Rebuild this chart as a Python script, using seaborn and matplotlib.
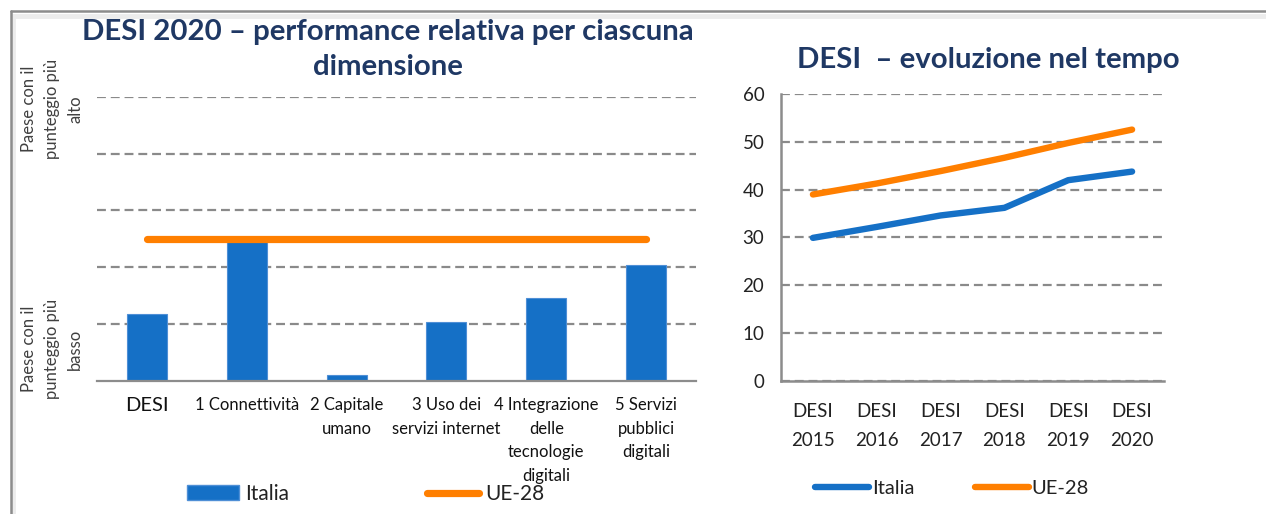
import matplotlib
matplotlib.use("Agg")
import matplotlib.pyplot as plt
from matplotlib.lines import Line2D
from matplotlib.patches import Patch
import seaborn as sns
import pandas as pd
import numpy as np

# ---------------- data ----------------
dimensions = ["DESI", "1 Connettività", "2 Capitale\numano", "3 Uso dei\nservizi internet",
              "4 Integrazione\ndelle\ntecnologie\ndigitali", "5 Servizi\npubblici\ndigitali"]
italia_rel = [23.4, 49.2, 2.0, 20.6, 29.2, 40.8]
ue28_rel = [50, 50, 50, 50, 50, 50]
rel_grid = [20, 40, 60, 80, 100]

years = ["DESI\n2015", "DESI\n2016", "DESI\n2017", "DESI\n2018", "DESI\n2019", "DESI\n2020"]
italia_desi = [29.9, 32.2, 34.6, 36.2, 42.0, 43.8]
ue28_desi = [39.0, 41.3, 43.9, 46.7, 49.8, 52.6]
desi_ticks = [0, 10, 20, 30, 40, 50, 60]

title_left = "DESI 2020 – performance relativa per ciascuna\ndimensione"
title_right = "DESI  – evoluzione nel tempo"
label_high = "Paese con il\npunteggio più\nalto"
label_low = "Paese con il\npunteggio più\nbasso"
series_names = ["Italia", "UE-28"]

# ---------------- style ----------------
BLUE = "#1570C6"
ORANGE = "#FF7F00"
NAVY = "#1F3864"
GRID = "#8a8a8a"
AX = "#8c8c8c"

sns.set_theme(style="white")
plt.rcParams["font.family"] = ["Lato", "DejaVu Sans"]

W, H = 1266, 514
fig = plt.figure(figsize=(W / 100, H / 100), dpi=100)
fig.patch.set_facecolor("white")


def px_rect(x0, y0, x1, y1):
    return [x0 / W, 1 - y1 / H, (x1 - x0) / W, (y1 - y0) / H]


# ---------------- left: bar chart ----------------
ax1 = fig.add_axes(px_rect(97, 96.7, 696, 380.7))
df_rel = pd.DataFrame({"dim": dimensions, "Italia": italia_rel, "UE-28": ue28_rel,
                       "pos": np.arange(len(dimensions))})
sns.barplot(data=df_rel, x="dim", y="Italia", color=BLUE, saturation=1, width=0.4,
            edgecolor="#4f8fd6", linewidth=0.8, ax=ax1, zorder=2)
sns.lineplot(data=df_rel, x="pos", y="UE-28", color=ORANGE, linewidth=5.2,
             solid_capstyle="round", ax=ax1, zorder=3)
ax1.set_xlim(-0.5, len(dimensions) - 0.5)
ax1.set_ylim(0, 100)
ax1.set_yticks(rel_grid)
ax1.set_yticklabels([])
ax1.tick_params(axis="y", length=0)
ax1.yaxis.grid(True, color=GRID, linestyle=(0, (4, 2.2)), linewidth=1.6)
ax1.xaxis.grid(False)
ax1.set_axisbelow(True)
for s in ["top", "right", "left"]:
    ax1.spines[s].set_visible(False)
ax1.spines["bottom"].set_color(AX)
ax1.spines["bottom"].set_linewidth(1.6)
ax1.set_xlabel("")
ax1.set_ylabel("")
ax1.set_xticks(np.arange(len(dimensions)))
ax1.set_xticklabels(dimensions, fontsize=12, color="#111111", linespacing=1.58)
ax1.get_xticklabels()[0].set_fontsize(14.5)
ax1.tick_params(axis="x", which="major", length=0, pad=12)
ax1.set_xticks(np.arange(len(dimensions) + 1) - 0.5, minor=True)
ax1.tick_params(axis="x", which="minor", length=4, width=1.4, color=AX, direction="out")

leg1 = ax1.legend(handles=[Patch(facecolor=BLUE, edgecolor="#4f8fd6", label=series_names[0]),
                           Line2D([], [], color=ORANGE, linewidth=5.2, solid_capstyle="round",
                                  label=series_names[1])],
                  loc="center left", bbox_to_anchor=(187 / W, 1 - 494 / H),
                  bbox_transform=fig.transFigure, ncol=2, frameon=False, fontsize=15,
                  handlelength=2.5, handleheight=0.7, handletextpad=0.3,
                  columnspacing=6.6, borderpad=0, borderaxespad=0)
for t in leg1.get_texts():
    t.set_color("#222222")

fig.text(52 / W, 1 - 109 / H, label_high, rotation=90, ha="center", va="center",
         fontsize=12, color="#404040", linespacing=1.55, multialignment="center")
fig.text(52 / W, 1 - 349 / H, label_low, rotation=90, ha="center", va="center",
         fontsize=12, color="#404040", linespacing=1.55, multialignment="center")
fig.text(388 / W, 1 - 49.5 / H, title_left, ha="center", va="center", fontsize=21.2,
         fontweight="bold", color=NAVY, linespacing=1.45)

# ---------------- right: line chart ----------------
ax2 = fig.add_axes(px_rect(781, 94.3, 1164, 380.5))
df_ts = pd.DataFrame({"pos": np.arange(len(years)), "Italia": italia_desi, "UE-28": ue28_desi})
sns.lineplot(data=df_ts, x="pos", y="Italia", color=BLUE, linewidth=4.6,
             solid_capstyle="round", ax=ax2, zorder=3)
sns.lineplot(data=df_ts, x="pos", y="UE-28", color=ORANGE, linewidth=4.6,
             solid_capstyle="round", ax=ax2, zorder=3)
ax2.set_xlim(-0.5, len(years) - 0.5)
ax2.set_ylim(0, 60)
ax2.set_yticks(desi_ticks)
ax2.set_yticklabels([str(v) for v in desi_ticks], fontsize=13.5, color="#222222")
ax2.tick_params(axis="y", length=5, width=1.4, color=AX, pad=7)
ax2.yaxis.grid(True, color=GRID, linestyle=(0, (4, 2.2)), linewidth=1.6)
ax2.xaxis.grid(False)
ax2.set_axisbelow(True)
for s in ["top", "right"]:
    ax2.spines[s].set_visible(False)
for s in ["left", "bottom"]:
    ax2.spines[s].set_color(AX)
    ax2.spines[s].set_linewidth(1.8)
ax2.set_xlabel("")
ax2.set_ylabel("")
ax2.set_xticks(np.arange(len(years)))
ax2.set_xticklabels(years, fontsize=13.5, color="#222222", linespacing=1.85)
ax2.tick_params(axis="x", which="major", length=0, pad=16.5)
ax2.set_xticks(np.arange(len(years) + 1) - 0.5, minor=True)
ax2.tick_params(axis="x", which="minor", length=6, width=1.4, color=AX, direction="out")

leg2 = ax2.legend(handles=[Line2D([], [], color=BLUE, linewidth=4.6, solid_capstyle="round",
                                  label=series_names[0]),
                           Line2D([], [], color=ORANGE, linewidth=4.6, solid_capstyle="round",
                                  label=series_names[1])],
                  loc="center left", bbox_to_anchor=(815 / W, 1 - 488 / H),
                  bbox_transform=fig.transFigure, ncol=2, frameon=False, fontsize=14.5,
                  handlelength=2.7, handletextpad=0.12, columnspacing=3.0,
                  borderpad=0, borderaxespad=0)
for t in leg2.get_texts():
    t.set_color("#222222")

fig.text(988 / W, 1 - 60 / H, title_right, ha="center", va="center", fontsize=21.2,
         fontweight="bold", color=NAVY)

# ---------------- frame ----------------
fig.add_artist(Line2D([13 / W, 13 / W], [0, 1 - 16 / H], transform=fig.transFigure,
                      color="#ececec", linewidth=3.5))
fig.add_artist(Line2D([13 / W, 1], [1 - 16 / H, 1 - 16 / H], transform=fig.transFigure,
                      color="#ececec", linewidth=3.5))
fig.add_artist(Line2D([10.5 / W, 10.5 / W], [0, 1 - 10.5 / H], transform=fig.transFigure,
                      color="#8c8c8c", linewidth=1.8))
fig.add_artist(Line2D([10.5 / W, 1], [1 - 10.5 / H, 1 - 10.5 / H], transform=fig.transFigure,
                      color="#8c8c8c", linewidth=1.8))

fig.savefig("out.png", dpi=100, facecolor="white")
